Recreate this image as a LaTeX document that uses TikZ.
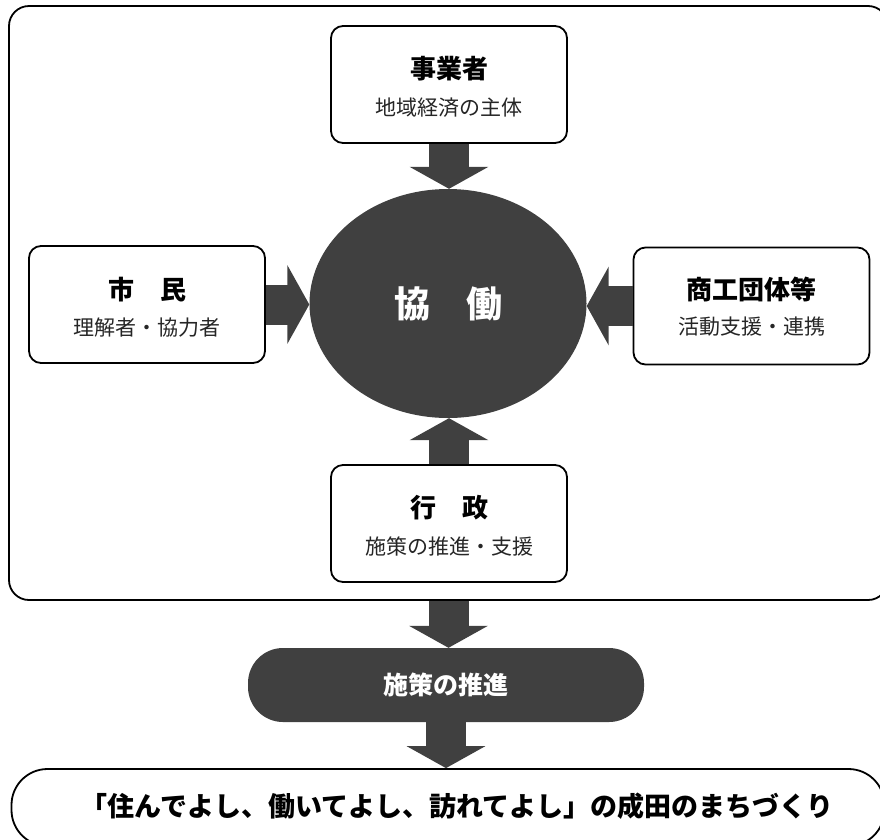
\documentclass[tikz,border=0pt]{standalone}
\usepackage{fontspec}
\setmainfont{Noto Sans CJK JP}
\usetikzlibrary{arrows.meta,shapes.geometric}
\definecolor{dk}{HTML}{404040}
\begin{document}
\begin{tikzpicture}[x=1pt,y=-1pt,
  box/.style={draw=black,line width=1.8pt,rounded corners=12pt,fill=white,
    minimum width=236pt,minimum height=117pt,inner sep=0pt},
  fat/.style={draw=dk,line width=40pt,line cap=butt,-{Triangle[width=78pt,length=22pt]}},
  ttl/.style={font=\bfseries\fontsize{26}{30}\selectfont,text=black},
  sub/.style={font=\fontsize{21}{24}\selectfont,text=black!85},
  lbl/.style={inner sep=0pt}]
\useasboundingbox (0,0) rectangle (880,839);
\clip (0,0) rectangle (880,839);
% outer frame
\node[draw=black,line width=1.8pt,rounded corners=20pt,minimum width=879pt,
  minimum height=594pt,inner sep=0pt] (frame) at (448.5,303) {};
% centre ellipse
\node[ellipse,fill=dk,minimum width=277pt,minimum height=229pt,inner sep=0pt,
  text=white,font=\bfseries\fontsize{36}{40}\selectfont] (ell) at (448,303.5) {協　働};
% boxes
\node[box] (jigyo) at (449,84.5) {};
\node[box] (shimin) at (147,304.5) {};
\node[box] (shoko) at (751.5,306) {};
\node[box] (gyosei) at (449,523.5) {};
% labels
\node[lbl,ttl] (jigyoT) at ([yshift=16pt]jigyo.center) {事業者};
\node[lbl,sub] (jigyoS) at ([yshift=-23pt]jigyo.center) {地域経済の主体};
\node[lbl,ttl] (shiminT) at ([yshift=15pt]shimin.center) {市　民};
\node[lbl,sub] (shiminS) at ([yshift=-23pt]shimin.center) {理解者・協力者};
\node[lbl,ttl] (shokoT) at ([yshift=17pt]shoko.center) {商工団体等};
\node[lbl,sub] (shokoS) at ([yshift=-21pt]shoko.center) {活動支援・連携};
\node[lbl,ttl] (gyoseiT) at ([yshift=16pt]gyosei.center) {行　政};
\node[lbl,sub] (gyoseiS) at ([yshift=-23pt]gyosei.center) {施策の推進・支援};
% pill and goal
\node[fill=dk,rounded corners=35pt,minimum width=396pt,minimum height=74pt,
  inner sep=0pt,text=white,font=\bfseries\fontsize{25}{28}\selectfont] (pill) at (446,685) {施策の推進};
\node[draw=black,line width=1.8pt,rounded corners=36pt,minimum width=873pt,
  minimum height=77pt,inner sep=0pt] (goal) at (448,807.5) {};
\node[lbl,font=\bfseries\fontsize{27}{30}\selectfont] (goalT) at (457,806)
  {「住んでよし、働いてよし、訪れてよし」の成田のまちづくり};
% block arrows
\draw[fat] (jigyo.south) -- (jigyo.south |- ell.north);
\draw[fat] (shimin.east) -- (shimin.east -| ell.west);
\draw[fat] (shoko.west) -- (shoko.west -| ell.east);
\draw[fat] (gyosei.north) -- (gyosei.north |- ell.south);
\draw[fat] (frame.south) -- (frame.south |- pill.north);
\draw[fat] (pill.south) -- (pill.south |- goal.north);
\end{tikzpicture}
\end{document}
